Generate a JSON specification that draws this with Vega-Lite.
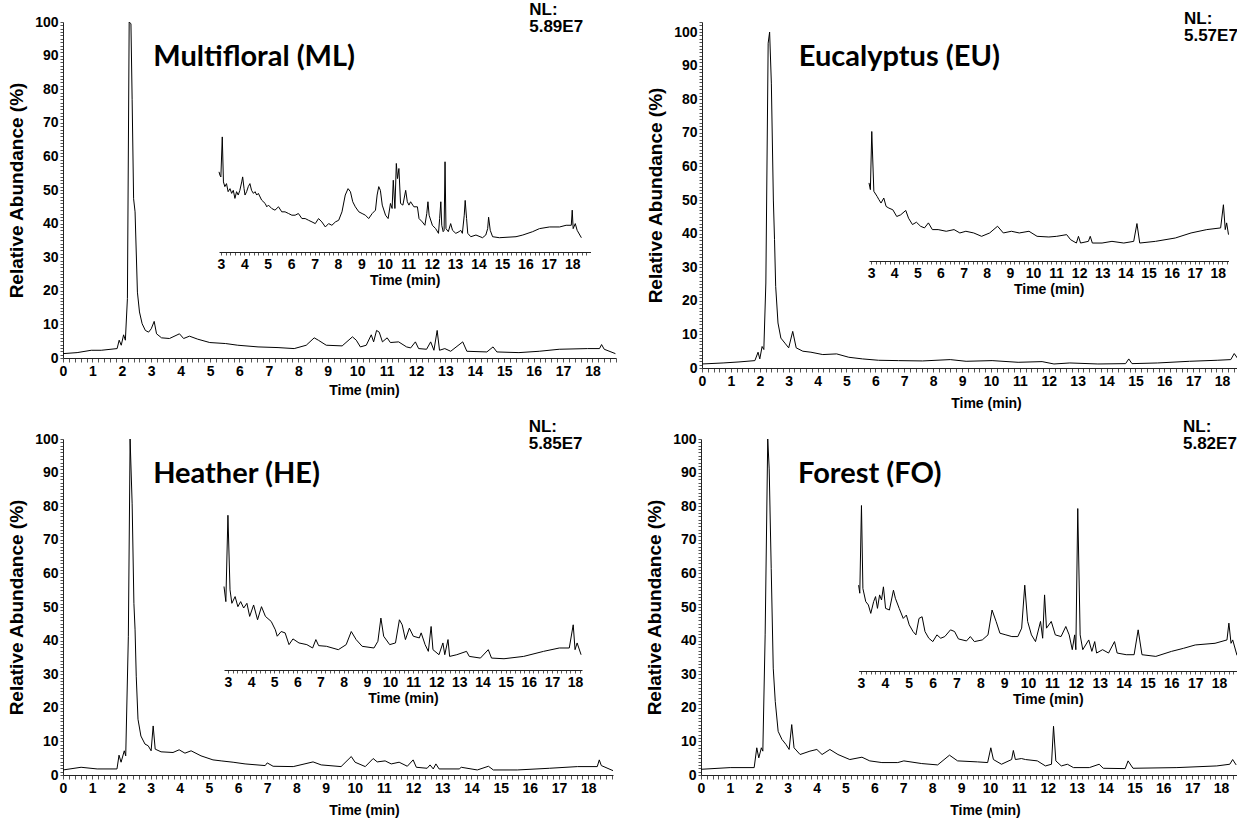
{
  "$schema": "https://vega.github.io/schema/vega-lite/v6.json",
  "background": "white",
  "padding": {"left": 7, "top": 0, "right": 0, "bottom": 2},
  "config": {
    "view": {"stroke": null},
    "axis": {
      "labelFont": "Liberation Sans", "labelFontWeight": "bold", "labelFontSize": 14, "labelColor": "black",
      "titleFont": "Liberation Sans", "titleFontWeight": "bold", "titleFontSize": 14, "titleColor": "black",
      "domainColor": "#222", "tickColor": "#555", "grid": false,
      "labelOverlap": false, "labelBound": false, "labelFlush": false
    }
  },
  "datasets": {
    "ML_main": [
      {"t":0,"v":1.3},{"t":0.48,"v":1.6},{"t":0.96,"v":2.3},{"t":1.3,"v":2.3},{"t":1.84,"v":2.8},{"t":1.91,"v":5.3},{"t":1.98,"v":3.8},{"t":2.06,"v":6.9},{"t":2.12,"v":5.3},{"t":2.19,"v":17.7},{"t":2.25,"v":100},{"t":2.31,"v":99.5},{"t":2.35,"v":77},{"t":2.4,"v":47.4},{"t":2.45,"v":43.5},{"t":2.47,"v":37.5},{"t":2.53,"v":19.6},{"t":2.6,"v":13.7},{"t":2.69,"v":10.2},{"t":2.8,"v":8.2},{"t":2.91,"v":7.7},{"t":3.0,"v":8.7},{"t":3.1,"v":10.9},{"t":3.18,"v":7.2},{"t":3.35,"v":6},{"t":3.62,"v":5.8},{"t":3.96,"v":7.2},{"t":4.1,"v":5.8},{"t":4.3,"v":6.5},{"t":4.58,"v":5.6},{"t":4.99,"v":4.6},{"t":5.53,"v":4.3},{"t":5.94,"v":3.8},{"t":6.63,"v":3.3},{"t":7.31,"v":3.1},{"t":7.86,"v":2.8},{"t":8.27,"v":3.8},{"t":8.54,"v":6},{"t":8.68,"v":5.3},{"t":8.95,"v":3.8},{"t":9.49,"v":3.6},{"t":9.84,"v":6.3},{"t":9.97,"v":5.3},{"t":10.11,"v":3.3},{"t":10.31,"v":3.8},{"t":10.48,"v":6.9},{"t":10.56,"v":4.8},{"t":10.66,"v":8.2},{"t":10.75,"v":7.7},{"t":10.86,"v":4.8},{"t":11.02,"v":6},{"t":11.13,"v":4.6},{"t":11.41,"v":4.8},{"t":11.68,"v":3.3},{"t":11.82,"v":3},{"t":11.98,"v":4.8},{"t":12.09,"v":2.8},{"t":12.36,"v":2.6},{"t":12.5,"v":4.8},{"t":12.61,"v":2.3},{"t":12.72,"v":8.2},{"t":12.8,"v":2.3},{"t":12.98,"v":2.8},{"t":13.18,"v":2},{"t":13.59,"v":4.8},{"t":13.73,"v":2},{"t":14.41,"v":1.8},{"t":14.62,"v":3.3},{"t":14.75,"v":1.8},{"t":15.5,"v":1.6},{"t":16.19,"v":2},{"t":16.87,"v":2.6},{"t":17.83,"v":2.8},{"t":18.24,"v":2.8},{"t":18.31,"v":4},{"t":18.4,"v":2.6},{"t":18.78,"v":1.3}
    ],
    "ML_inset": [
      {"t":2.92,"v":55.4},{"t":2.96,"v":54.4},{"t":3.0,"v":53.9},{"t":3.06,"v":65.8},{"t":3.11,"v":52.4},{"t":3.17,"v":51.0},{"t":3.24,"v":51.9},{"t":3.31,"v":49.5},{"t":3.39,"v":50.4},{"t":3.46,"v":49.0},{"t":3.53,"v":49.9},{"t":3.6,"v":47.5},{"t":3.67,"v":49.5},{"t":3.74,"v":48.5},{"t":3.81,"v":49.9},{"t":3.89,"v":52.4},{"t":3.93,"v":53.9},{"t":3.99,"v":50.4},{"t":4.03,"v":48.5},{"t":4.1,"v":49.5},{"t":4.17,"v":51.0},{"t":4.24,"v":51.9},{"t":4.31,"v":49.9},{"t":4.39,"v":49.0},{"t":4.46,"v":49.5},{"t":4.53,"v":48.5},{"t":4.6,"v":49.0},{"t":4.74,"v":47.0},{"t":4.89,"v":46.0},{"t":4.96,"v":45.0},{"t":5.03,"v":45.5},{"t":5.17,"v":44.5},{"t":5.31,"v":44.0},{"t":5.46,"v":45.0},{"t":5.6,"v":43.5},{"t":5.74,"v":43.5},{"t":5.89,"v":43.0},{"t":6.03,"v":42.5},{"t":6.17,"v":42.5},{"t":6.31,"v":43.0},{"t":6.46,"v":41.5},{"t":6.6,"v":41.5},{"t":6.74,"v":41.0},{"t":6.89,"v":40.5},{"t":7.03,"v":40.0},{"t":7.17,"v":41.5},{"t":7.31,"v":40.5},{"t":7.46,"v":39.0},{"t":7.6,"v":40.0},{"t":7.74,"v":39.5},{"t":7.89,"v":40.5},{"t":8.03,"v":41.0},{"t":8.17,"v":43.5},{"t":8.31,"v":48.5},{"t":8.43,"v":50.4},{"t":8.53,"v":49.5},{"t":8.63,"v":46.5},{"t":8.74,"v":45.0},{"t":8.89,"v":43.5},{"t":9.03,"v":43.0},{"t":9.17,"v":42.5},{"t":9.31,"v":41.5},{"t":9.46,"v":43.0},{"t":9.6,"v":44.0},{"t":9.67,"v":48.5},{"t":9.74,"v":51.0},{"t":9.81,"v":49.9},{"t":9.89,"v":45.5},{"t":10.03,"v":42.5},{"t":10.14,"v":41.5},{"t":10.24,"v":46.0},{"t":10.31,"v":44.5},{"t":10.36,"v":52.9},{"t":10.43,"v":44.5},{"t":10.49,"v":57.9},{"t":10.54,"v":53.4},{"t":10.6,"v":56.4},{"t":10.67,"v":46.0},{"t":10.77,"v":45.5},{"t":10.89,"v":49.9},{"t":10.96,"v":46.5},{"t":11.03,"v":45.5},{"t":11.1,"v":46.5},{"t":11.24,"v":45.0},{"t":11.39,"v":45.0},{"t":11.46,"v":41.5},{"t":11.6,"v":40.5},{"t":11.71,"v":39.5},{"t":11.79,"v":43.0},{"t":11.84,"v":46.5},{"t":11.89,"v":42.5},{"t":12.03,"v":39.5},{"t":12.17,"v":38.5},{"t":12.29,"v":37.1},{"t":12.34,"v":41.5},{"t":12.39,"v":46.5},{"t":12.43,"v":39.5},{"t":12.49,"v":37.6},{"t":12.53,"v":38.0},{"t":12.57,"v":58.4},{"t":12.61,"v":38.5},{"t":12.71,"v":37.6},{"t":12.81,"v":40.0},{"t":12.89,"v":38.0},{"t":13.03,"v":37.1},{"t":13.17,"v":37.6},{"t":13.24,"v":38.0},{"t":13.31,"v":37.1},{"t":13.39,"v":42.5},{"t":13.43,"v":46.9},{"t":13.49,"v":41.5},{"t":13.54,"v":37.1},{"t":13.67,"v":36.1},{"t":13.89,"v":36.6},{"t":14.17,"v":35.8},{"t":14.31,"v":36.6},{"t":14.39,"v":38.5},{"t":14.43,"v":41.9},{"t":14.5,"v":38.0},{"t":14.6,"v":36.1},{"t":14.89,"v":35.8},{"t":15.6,"v":36.1},{"t":15.89,"v":36.6},{"t":16.31,"v":37.6},{"t":16.6,"v":38.5},{"t":17.03,"v":39.0},{"t":17.46,"v":39.0},{"t":17.74,"v":39.5},{"t":17.96,"v":39.5},{"t":18.0,"v":44.0},{"t":18.04,"v":38.5},{"t":18.13,"v":40.0},{"t":18.21,"v":38.0},{"t":18.39,"v":35.8}
    ],
    "ML_text": [
      {"t":3.07,"v":89.6,"label":"Multifloral (ML)","kind":"title"},
      {"t":15.85,"v":103.6,"label":"NL:","kind":"nl"},
      {"t":15.85,"v":98.5,"label":"5.89E7","kind":"nl"}
    ],
    "EU_main": [
      {"t":0,"v":1.2},{"t":0.73,"v":1.5},{"t":1.28,"v":1.8},{"t":1.83,"v":2.2},{"t":1.94,"v":4.7},{"t":2.0,"v":2.7},{"t":2.08,"v":6.4},{"t":2.14,"v":5.5},{"t":2.21,"v":25.3},{"t":2.29,"v":96.7},{"t":2.34,"v":100},{"t":2.4,"v":84.8},{"t":2.47,"v":50},{"t":2.51,"v":38.2},{"t":2.55,"v":24.3},{"t":2.63,"v":13.4},{"t":2.73,"v":8.9},{"t":2.87,"v":7.4},{"t":3.0,"v":6.0},{"t":3.14,"v":10.9},{"t":3.26,"v":6.0},{"t":3.49,"v":5.0},{"t":3.77,"v":4.7},{"t":4.18,"v":4.0},{"t":4.66,"v":4.2},{"t":5.08,"v":3.2},{"t":5.56,"v":2.7},{"t":6.11,"v":2.3},{"t":6.8,"v":2.2},{"t":7.63,"v":2.1},{"t":8.59,"v":2.5},{"t":9.14,"v":2.0},{"t":10.04,"v":2.2},{"t":10.94,"v":1.7},{"t":11.77,"v":1.9},{"t":12.18,"v":1.2},{"t":12.73,"v":1.5},{"t":13.7,"v":1.2},{"t":14.66,"v":1.3},{"t":14.77,"v":2.7},{"t":14.88,"v":1.3},{"t":15.77,"v":1.5},{"t":16.87,"v":2.0},{"t":17.83,"v":2.3},{"t":18.3,"v":2.5},{"t":18.42,"v":4.3},{"t":18.55,"v":2.7}
    ],
    "EU_inset": [
      {"t":2.91,"v":55.1},{"t":2.97,"v":53.1},{"t":3.03,"v":70.4},{"t":3.12,"v":52.6},{"t":3.26,"v":51.1},{"t":3.34,"v":50.1},{"t":3.43,"v":49.1},{"t":3.55,"v":50.6},{"t":3.65,"v":48.1},{"t":3.77,"v":47.6},{"t":3.94,"v":47.1},{"t":4.11,"v":45.1},{"t":4.28,"v":45.6},{"t":4.5,"v":46.9},{"t":4.62,"v":44.6},{"t":4.79,"v":42.7},{"t":4.96,"v":43.4},{"t":5.14,"v":42.2},{"t":5.31,"v":41.7},{"t":5.48,"v":43.2},{"t":5.65,"v":41.2},{"t":5.9,"v":41.2},{"t":6.25,"v":40.7},{"t":6.59,"v":41.2},{"t":6.84,"v":40.2},{"t":7.1,"v":40.7},{"t":7.44,"v":40.2},{"t":7.78,"v":39.2},{"t":8.13,"v":40.2},{"t":8.47,"v":42.2},{"t":8.72,"v":40.2},{"t":9.07,"v":40.7},{"t":9.41,"v":40.2},{"t":9.83,"v":40.7},{"t":10.18,"v":39.2},{"t":10.69,"v":39.0},{"t":11.03,"v":39.2},{"t":11.46,"v":39.7},{"t":11.63,"v":38.2},{"t":11.88,"v":37.2},{"t":11.97,"v":39.2},{"t":12.06,"v":37.2},{"t":12.4,"v":37.7},{"t":12.48,"v":39.2},{"t":12.57,"v":37.2},{"t":12.99,"v":37.2},{"t":13.42,"v":37.7},{"t":13.93,"v":37.2},{"t":14.36,"v":37.7},{"t":14.5,"v":43.0},{"t":14.62,"v":37.2},{"t":15.3,"v":37.7},{"t":16.16,"v":38.7},{"t":16.84,"v":40.2},{"t":17.52,"v":41.2},{"t":18.12,"v":41.7},{"t":18.24,"v":48.6},{"t":18.32,"v":41.2},{"t":18.38,"v":43.2},{"t":18.46,"v":39.7}
    ],
    "EU_text": [
      {"t":3.35,"v":92.6,"label":"Eucalyptus (EU)","kind":"title"},
      {"t":16.68,"v":103.9,"label":"NL:","kind":"nl"},
      {"t":16.68,"v":98.8,"label":"5.57E7","kind":"nl"}
    ],
    "HE_main": [
      {"t":0,"v":1.5},{"t":0.62,"v":2.3},{"t":1.17,"v":1.8},{"t":1.85,"v":1.8},{"t":1.92,"v":5.9},{"t":1.99,"v":3.8},{"t":2.1,"v":7.2},{"t":2.15,"v":5.7},{"t":2.24,"v":41.3},{"t":2.3,"v":100},{"t":2.37,"v":80.7},{"t":2.43,"v":51.1},{"t":2.47,"v":43.2},{"t":2.51,"v":29.4},{"t":2.57,"v":16.6},{"t":2.67,"v":11.6},{"t":2.81,"v":9.2},{"t":2.92,"v":8.7},{"t":3.02,"v":7.2},{"t":3.09,"v":14.6},{"t":3.16,"v":7.7},{"t":3.36,"v":6.9},{"t":3.77,"v":6.7},{"t":3.98,"v":7.5},{"t":4.18,"v":6.5},{"t":4.39,"v":7.2},{"t":4.73,"v":5.7},{"t":5.14,"v":4.5},{"t":5.42,"v":4.2},{"t":5.83,"v":3.8},{"t":6.24,"v":3.3},{"t":6.93,"v":2.8},{"t":7.0,"v":3.6},{"t":7.2,"v":2.6},{"t":7.89,"v":2.5},{"t":8.57,"v":3.9},{"t":8.85,"v":3.0},{"t":9.53,"v":2.5},{"t":9.88,"v":5.5},{"t":10.01,"v":3.8},{"t":10.36,"v":2.5},{"t":10.63,"v":4.9},{"t":10.77,"v":3.9},{"t":11.04,"v":4.2},{"t":11.25,"v":3.3},{"t":11.52,"v":3.8},{"t":11.8,"v":2.6},{"t":12.0,"v":4.5},{"t":12.11,"v":2.3},{"t":12.48,"v":2.0},{"t":12.58,"v":3.0},{"t":12.69,"v":1.8},{"t":12.78,"v":3.3},{"t":12.89,"v":1.8},{"t":13.58,"v":1.8},{"t":13.65,"v":2.3},{"t":14.2,"v":1.5},{"t":14.58,"v":2.6},{"t":14.75,"v":1.5},{"t":15.57,"v":1.5},{"t":16.67,"v":2.0},{"t":17.63,"v":2.5},{"t":18.31,"v":2.5},{"t":18.38,"v":4.5},{"t":18.45,"v":2.8},{"t":18.85,"v":1.3}
    ],
    "HE_inset": [
      {"t":2.83,"v":56.1},{"t":2.91,"v":51.6},{"t":3.0,"v":77.3},{"t":3.09,"v":55.1},{"t":3.17,"v":51.1},{"t":3.31,"v":53.1},{"t":3.43,"v":50.1},{"t":3.55,"v":51.6},{"t":3.68,"v":49.7},{"t":3.82,"v":51.1},{"t":3.94,"v":47.2},{"t":4.11,"v":50.6},{"t":4.28,"v":46.2},{"t":4.45,"v":50.1},{"t":4.62,"v":47.2},{"t":4.87,"v":45.7},{"t":5.05,"v":43.2},{"t":5.13,"v":41.3},{"t":5.3,"v":42.7},{"t":5.47,"v":42.3},{"t":5.64,"v":38.8},{"t":5.81,"v":40.5},{"t":6.07,"v":39.3},{"t":6.41,"v":38.8},{"t":6.66,"v":37.8},{"t":6.8,"v":40.3},{"t":6.92,"v":38.5},{"t":7.26,"v":38.3},{"t":7.77,"v":37.3},{"t":8.11,"v":38.8},{"t":8.33,"v":42.7},{"t":8.54,"v":40.3},{"t":8.8,"v":38.3},{"t":9.31,"v":37.8},{"t":9.48,"v":39.8},{"t":9.61,"v":46.7},{"t":9.73,"v":41.3},{"t":9.99,"v":38.8},{"t":10.24,"v":39.3},{"t":10.41,"v":46.2},{"t":10.53,"v":44.7},{"t":10.67,"v":40.3},{"t":10.84,"v":43.7},{"t":11.01,"v":41.3},{"t":11.27,"v":40.8},{"t":11.35,"v":42.3},{"t":11.52,"v":38.8},{"t":11.66,"v":36.8},{"t":11.78,"v":44.2},{"t":11.86,"v":37.3},{"t":12.12,"v":35.8},{"t":12.29,"v":39.3},{"t":12.37,"v":35.8},{"t":12.51,"v":40.3},{"t":12.58,"v":35.3},{"t":12.89,"v":35.8},{"t":13.31,"v":36.8},{"t":13.43,"v":35.3},{"t":13.91,"v":34.8},{"t":14.25,"v":37.3},{"t":14.39,"v":34.8},{"t":14.93,"v":34.6},{"t":15.78,"v":35.3},{"t":16.64,"v":36.8},{"t":17.32,"v":37.8},{"t":17.75,"v":37.8},{"t":17.92,"v":44.7},{"t":18.0,"v":37.3},{"t":18.09,"v":39.3},{"t":18.26,"v":35.8}
    ],
    "HE_text": [
      {"t":3.09,"v":89.6,"label":"Heather (HE)","kind":"title"},
      {"t":15.96,"v":103.6,"label":"NL:","kind":"nl"},
      {"t":15.96,"v":98.5,"label":"5.85E7","kind":"nl"}
    ],
    "FO_main": [
      {"t":0,"v":1.7},{"t":1.01,"v":2.2},{"t":1.84,"v":2.2},{"t":1.93,"v":8.1},{"t":2.0,"v":5.1},{"t":2.09,"v":8.1},{"t":2.14,"v":7.1},{"t":2.22,"v":41.7},{"t":2.31,"v":100},{"t":2.36,"v":91.1},{"t":2.43,"v":61.5},{"t":2.5,"v":31.8},{"t":2.57,"v":21.9},{"t":2.67,"v":13},{"t":2.8,"v":10.6},{"t":2.94,"v":9.1},{"t":3.05,"v":7.6},{"t":3.14,"v":15},{"t":3.22,"v":8.1},{"t":3.43,"v":6.1},{"t":3.77,"v":7.1},{"t":4.01,"v":7.6},{"t":4.19,"v":6.1},{"t":4.46,"v":7.6},{"t":4.74,"v":6.1},{"t":5.15,"v":4.6},{"t":5.57,"v":5.3},{"t":5.84,"v":4.2},{"t":6.26,"v":3.7},{"t":6.81,"v":3.7},{"t":7.02,"v":4.2},{"t":7.64,"v":3.4},{"t":8.19,"v":3.0},{"t":8.6,"v":5.9},{"t":8.88,"v":4.2},{"t":9.57,"v":3.9},{"t":9.92,"v":3.7},{"t":10.03,"v":8.1},{"t":10.12,"v":4.6},{"t":10.4,"v":3.2},{"t":10.75,"v":4.6},{"t":10.81,"v":7.3},{"t":10.88,"v":4.6},{"t":11.09,"v":4.9},{"t":11.23,"v":4.6},{"t":11.64,"v":4.2},{"t":11.92,"v":2.7},{"t":12.13,"v":3.2},{"t":12.2,"v":14.5},{"t":12.28,"v":4.2},{"t":12.47,"v":2.7},{"t":12.68,"v":3.2},{"t":12.89,"v":2.2},{"t":13.44,"v":2.2},{"t":13.78,"v":3.2},{"t":13.92,"v":2.0},{"t":14.68,"v":1.9},{"t":14.78,"v":4.2},{"t":14.95,"v":2.0},{"t":16.47,"v":2.2},{"t":17.85,"v":2.7},{"t":18.3,"v":3.2},{"t":18.4,"v":4.6},{"t":18.52,"v":3.0}
    ],
    "FO_inset": [
      {"t":2.9,"v":56.5},{"t":2.95,"v":54.1},{"t":3.02,"v":80.2},{"t":3.08,"v":55.5},{"t":3.2,"v":51.6},{"t":3.31,"v":50.6},{"t":3.41,"v":48.1},{"t":3.53,"v":51.6},{"t":3.61,"v":53.1},{"t":3.69,"v":49.6},{"t":3.78,"v":53.6},{"t":3.86,"v":52.1},{"t":3.94,"v":56.0},{"t":4.03,"v":49.6},{"t":4.19,"v":49.1},{"t":4.36,"v":55.0},{"t":4.44,"v":52.6},{"t":4.6,"v":49.6},{"t":4.77,"v":46.6},{"t":4.9,"v":47.6},{"t":5.02,"v":44.7},{"t":5.18,"v":42.7},{"t":5.3,"v":41.7},{"t":5.43,"v":46.6},{"t":5.56,"v":47.1},{"t":5.68,"v":42.7},{"t":5.84,"v":40.7},{"t":6.01,"v":39.7},{"t":6.18,"v":41.7},{"t":6.34,"v":40.7},{"t":6.51,"v":41.2},{"t":6.75,"v":43.2},{"t":6.92,"v":42.7},{"t":7.08,"v":40.5},{"t":7.42,"v":39.9},{"t":7.58,"v":41.2},{"t":7.75,"v":39.7},{"t":8.08,"v":40.2},{"t":8.32,"v":41.7},{"t":8.49,"v":49.1},{"t":8.66,"v":45.7},{"t":8.82,"v":42.2},{"t":9.07,"v":41.7},{"t":9.32,"v":41.2},{"t":9.57,"v":41.2},{"t":9.73,"v":43.7},{"t":9.86,"v":56.5},{"t":9.98,"v":45.7},{"t":10.14,"v":41.7},{"t":10.31,"v":39.7},{"t":10.52,"v":45.7},{"t":10.61,"v":40.7},{"t":10.69,"v":53.6},{"t":10.77,"v":43.7},{"t":10.97,"v":45.7},{"t":11.14,"v":41.7},{"t":11.38,"v":41.2},{"t":11.58,"v":44.2},{"t":11.72,"v":41.7},{"t":11.85,"v":37.3},{"t":11.95,"v":41.7},{"t":12.0,"v":37.3},{"t":12.08,"v":79.3},{"t":12.18,"v":41.7},{"t":12.29,"v":37.3},{"t":12.54,"v":40.2},{"t":12.67,"v":36.8},{"t":12.79,"v":39.7},{"t":12.87,"v":36.3},{"t":13.12,"v":37.3},{"t":13.37,"v":36.3},{"t":13.62,"v":39.7},{"t":13.73,"v":36.3},{"t":14.11,"v":35.8},{"t":14.44,"v":35.8},{"t":14.61,"v":43.2},{"t":14.77,"v":35.8},{"t":15.35,"v":35.3},{"t":16.01,"v":36.8},{"t":16.51,"v":37.7},{"t":17.0,"v":38.7},{"t":17.83,"v":39.2},{"t":18.33,"v":40.2},{"t":18.41,"v":45.2},{"t":18.5,"v":39.2},{"t":18.57,"v":40.2},{"t":18.75,"v":35.6}
    ],
    "FO_text": [
      {"t":3.36,"v":89.6,"label":"Forest (FO)","kind":"title"},
      {"t":16.68,"v":103.6,"label":"NL:","kind":"nl"},
      {"t":16.68,"v":98.5,"label":"5.82E7","kind":"nl"}
    ]
  },
  "vconcat": [
    {
      "spacing": 29,
      "hconcat": [
        {
          "width": 553, "height": 336,
          "layer": [
            {"layer": [
              {"data": {"name": "ML_main"}, "mark": {"type": "line", "color": "black", "strokeWidth": 1, "clip": true},
               "encoding": {
                 "x": {"field": "t", "type": "quantitative", "scale": {"domain": [0, 18.8], "nice": false, "zero": false},
                       "axis": {"title": "Time (min)", "tickCount": 100, "labelExpr": "datum.value % 1 === 0 ? format(datum.value, 'd') : ''", "tickSize": 4, "labelPadding": 2, "titlePadding": 5, "titleX": 301}},
                 "y": {"field": "v", "type": "quantitative", "scale": {"domain": [0, 100], "nice": false},
                       "axis": {"title": "Relative Abundance (%)", "tickCount": 100, "labelExpr": "datum.value % 10 === 0 ? format(datum.value, 'd') : ''", "tickSize": 3, "labelPadding": 2, "titlePadding": 8, "titleFontSize": 19}}
               }},
              {"data": {"name": "ML_text"}, "transform": [{"filter": "datum.kind === 'title'"}],
               "mark": {"type": "text", "font": "Lato", "fontWeight": "bold", "fontSize": 29, "align": "left", "baseline": "middle", "color": "black"},
               "encoding": {"x": {"field": "t", "type": "quantitative"}, "y": {"field": "v", "type": "quantitative"}, "text": {"field": "label"}}},
              {"data": {"name": "ML_text"}, "transform": [{"filter": "datum.kind === 'nl'"}],
               "mark": {"type": "text", "font": "Liberation Sans", "fontWeight": "bold", "fontSize": 17, "align": "left", "baseline": "middle", "color": "black"},
               "encoding": {"x": {"field": "t", "type": "quantitative"}, "y": {"field": "v", "type": "quantitative"}, "text": {"field": "label"}}}
            ]},
            {"data": {"name": "ML_inset"}, "mark": {"type": "line", "color": "black", "strokeWidth": 1},
             "encoding": {
               "x": {"field": "t", "type": "quantitative", "scale": {"domain": [2.92, 18.78], "range": [156, 527.5], "nice": false, "zero": false},
                     "axis": {"orient": "bottom", "offset": -106, "title": "Time (min)", "tickCount": 80, "labelExpr": "datum.value % 1 === 0 ? format(datum.value, 'd') : ''", "tickSize": 3, "labelPadding": 2, "titlePadding": 2}},
               "y": {"field": "v", "type": "quantitative"}
             }}
          ],
          "resolve": {"scale": {"x": "independent"}}
        },
        {
          "width": 536, "height": 346,
          "layer": [
            {"layer": [
              {"data": {"name": "EU_main"}, "mark": {"type": "line", "color": "black", "strokeWidth": 1, "clip": true},
               "encoding": {
                 "x": {"field": "t", "type": "quantitative", "scale": {"domain": [0, 18.55], "nice": false, "zero": false},
                       "axis": {"title": "Time (min)", "tickCount": 100, "labelExpr": "datum.value % 1 === 0 ? format(datum.value, 'd') : ''", "tickSize": 4, "labelPadding": 2, "titlePadding": 8, "titleX": 284}},
                 "y": {"field": "v", "type": "quantitative", "scale": {"domain": [0, 103], "nice": false},
                       "axis": {"title": "Relative Abundance (%)", "tickCount": 100, "labelExpr": "datum.value % 10 === 0 ? format(datum.value, 'd') : ''", "tickSize": 3, "labelPadding": 2, "titlePadding": 8, "titleFontSize": 19}}
               }},
              {"data": {"name": "EU_text"}, "transform": [{"filter": "datum.kind === 'title'"}],
               "mark": {"type": "text", "font": "Lato", "fontWeight": "bold", "fontSize": 29, "align": "left", "baseline": "middle", "color": "black"},
               "encoding": {"x": {"field": "t", "type": "quantitative"}, "y": {"field": "v", "type": "quantitative"}, "text": {"field": "label"}}},
              {"data": {"name": "EU_text"}, "transform": [{"filter": "datum.kind === 'nl'"}],
               "mark": {"type": "text", "font": "Liberation Sans", "fontWeight": "bold", "fontSize": 17, "align": "left", "baseline": "middle", "color": "black"},
               "encoding": {"x": {"field": "t", "type": "quantitative"}, "y": {"field": "v", "type": "quantitative"}, "text": {"field": "label"}}}
            ]},
            {"data": {"name": "EU_inset"}, "mark": {"type": "line", "color": "black", "strokeWidth": 1},
             "encoding": {
               "x": {"field": "t", "type": "quantitative", "scale": {"domain": [2.91, 18.46], "range": [167, 526.5], "nice": false, "zero": false},
                     "axis": {"orient": "bottom", "offset": -107, "title": "Time (min)", "tickCount": 80, "labelExpr": "datum.value % 1 === 0 ? format(datum.value, 'd') : ''", "tickSize": 3, "labelPadding": 2, "titlePadding": 2}},
               "y": {"field": "v", "type": "quantitative"}
             }}
          ],
          "resolve": {"scale": {"x": "independent"}}
        }
      ]
    },
    {
      "spacing": 32,
      "hconcat": [
        {
          "width": 550, "height": 336,
          "layer": [
            {"layer": [
              {"data": {"name": "HE_main"}, "mark": {"type": "line", "color": "black", "strokeWidth": 1, "clip": true},
               "encoding": {
                 "x": {"field": "t", "type": "quantitative", "scale": {"domain": [0, 18.85], "nice": false, "zero": false},
                       "axis": {"title": "Time (min)", "tickCount": 100, "labelExpr": "datum.value % 1 === 0 ? format(datum.value, 'd') : ''", "tickSize": 4, "labelPadding": 2, "titlePadding": 8, "titleX": 301}},
                 "y": {"field": "v", "type": "quantitative", "scale": {"domain": [0, 100], "nice": false},
                       "axis": {"title": "Relative Abundance (%)", "tickCount": 100, "labelExpr": "datum.value % 10 === 0 ? format(datum.value, 'd') : ''", "tickSize": 3, "labelPadding": 2, "titlePadding": 8, "titleFontSize": 19}}
               }},
              {"data": {"name": "HE_text"}, "transform": [{"filter": "datum.kind === 'title'"}],
               "mark": {"type": "text", "font": "Lato", "fontWeight": "bold", "fontSize": 29, "align": "left", "baseline": "middle", "color": "black"},
               "encoding": {"x": {"field": "t", "type": "quantitative"}, "y": {"field": "v", "type": "quantitative"}, "text": {"field": "label"}}},
              {"data": {"name": "HE_text"}, "transform": [{"filter": "datum.kind === 'nl'"}],
               "mark": {"type": "text", "font": "Liberation Sans", "fontWeight": "bold", "fontSize": 17, "align": "left", "baseline": "middle", "color": "black"},
               "encoding": {"x": {"field": "t", "type": "quantitative"}, "y": {"field": "v", "type": "quantitative"}, "text": {"field": "label"}}}
            ]},
            {"data": {"name": "HE_inset"}, "mark": {"type": "line", "color": "black", "strokeWidth": 1},
             "encoding": {
               "x": {"field": "t", "type": "quantitative", "scale": {"domain": [2.83, 18.3], "range": [161, 519], "nice": false, "zero": false},
                     "axis": {"orient": "bottom", "offset": -105, "title": "Time (min)", "tickCount": 80, "labelExpr": "datum.value % 1 === 0 ? format(datum.value, 'd') : ''", "tickSize": 3, "labelPadding": 2, "titlePadding": 2}},
               "y": {"field": "v", "type": "quantitative"}
             }}
          ],
          "resolve": {"scale": {"x": "independent"}}
        },
        {
          "width": 536, "height": 336,
          "layer": [
            {"layer": [
              {"data": {"name": "FO_main"}, "mark": {"type": "line", "color": "black", "strokeWidth": 1, "clip": true},
               "encoding": {
                 "x": {"field": "t", "type": "quantitative", "scale": {"domain": [0, 18.55], "nice": false, "zero": false},
                       "axis": {"title": "Time (min)", "tickCount": 100, "labelExpr": "datum.value % 1 === 0 ? format(datum.value, 'd') : ''", "tickSize": 4, "labelPadding": 2, "titlePadding": 8, "titleX": 284}},
                 "y": {"field": "v", "type": "quantitative", "scale": {"domain": [0, 100], "nice": false},
                       "axis": {"title": "Relative Abundance (%)", "tickCount": 100, "labelExpr": "datum.value % 10 === 0 ? format(datum.value, 'd') : ''", "tickSize": 3, "labelPadding": 2, "titlePadding": 8, "titleFontSize": 19}}
               }},
              {"data": {"name": "FO_text"}, "transform": [{"filter": "datum.kind === 'title'"}],
               "mark": {"type": "text", "font": "Lato", "fontWeight": "bold", "fontSize": 29, "align": "left", "baseline": "middle", "color": "black"},
               "encoding": {"x": {"field": "t", "type": "quantitative"}, "y": {"field": "v", "type": "quantitative"}, "text": {"field": "label"}}},
              {"data": {"name": "FO_text"}, "transform": [{"filter": "datum.kind === 'nl'"}],
               "mark": {"type": "text", "font": "Liberation Sans", "fontWeight": "bold", "fontSize": 17, "align": "left", "baseline": "middle", "color": "black"},
               "encoding": {"x": {"field": "t", "type": "quantitative"}, "y": {"field": "v", "type": "quantitative"}, "text": {"field": "label"}}}
            ]},
            {"data": {"name": "FO_inset"}, "mark": {"type": "line", "color": "black", "strokeWidth": 1, "clip": true},
             "encoding": {
               "x": {"field": "t", "type": "quantitative", "scale": {"domain": [2.9, 18.75], "range": [157.6, 536], "nice": false, "zero": false},
                     "axis": {"orient": "bottom", "offset": -104, "title": "Time (min)", "tickCount": 80, "labelExpr": "datum.value % 1 === 0 ? format(datum.value, 'd') : ''", "tickSize": 3, "labelPadding": 2, "titlePadding": 2}},
               "y": {"field": "v", "type": "quantitative"}
             }}
          ],
          "resolve": {"scale": {"x": "independent"}}
        }
      ]
    }
  ],
  "spacing": 7
}
